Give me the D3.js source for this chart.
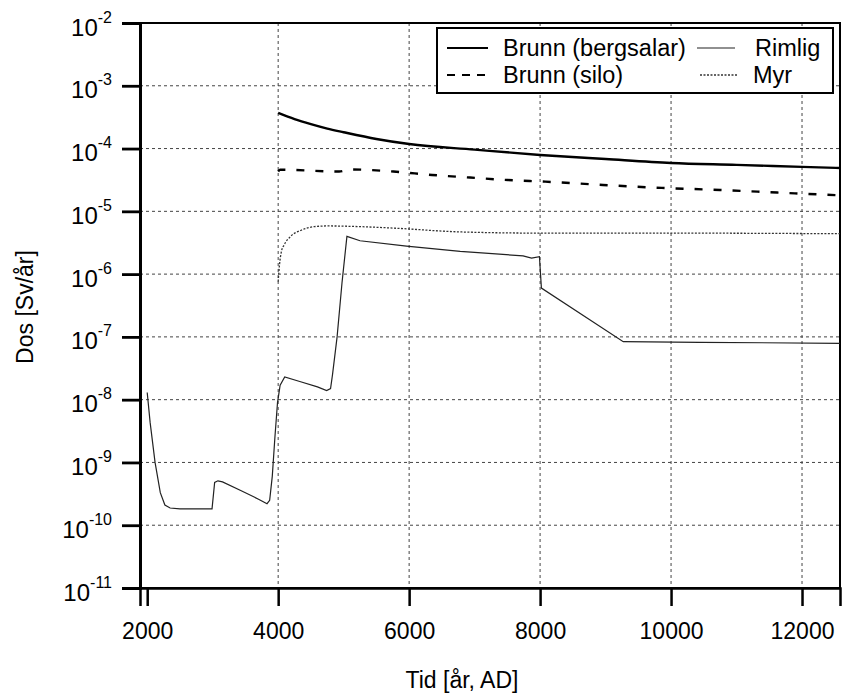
<!DOCTYPE html>
<html>
<head>
<meta charset="utf-8">
<script src="https://cdn.jsdelivr.net/npm/d3@7"></script>
<style>
  body { margin: 0; background: #fff; }
  text { font-family: "Liberation Sans", Arial, sans-serif; fill: #000; }
</style>
</head>
<body>
<svg id="chart" width="846" height="697"></svg>
<script>
// year (AD) -> dose (Sv/år)
const bergsalar = [[4000, 3.7e-4], [4250, 2.95e-4], [4500, 2.45e-4], [4750, 2.08e-4], [5000, 1.82e-4],
  [5500, 1.42e-4], [6000, 1.18e-4], [7000, 9.6e-5], [8000, 7.9e-5], [9000, 6.8e-5],
  [10000, 5.9e-5], [11000, 5.5e-5], [12000, 5.1e-5], [12580, 4.9e-5]]

const silo = [[4000, 4.3e-5], [4030, 4.6e-5], [4930, 4.3e-5], [5100, 4.65e-5], [5760, 4.3e-5],
  [6350, 3.8e-5], [6930, 3.45e-5], [7510, 3.15e-5], [8080, 2.97e-5], [8960, 2.63e-5],
  [9860, 2.36e-5], [10750, 2.19e-5], [11620, 1.99e-5], [12580, 1.8e-5]]

const rimlig = [[2000, 1.3e-8], [2045, 4.3e-9], [2120, 1.0e-9], [2200, 3.3e-10], [2270, 2.1e-10],
  [2350, 1.88e-10], [2500, 1.82e-10], [2990, 1.82e-10], [3030, 4.8e-10], [3080, 5.1e-10],
  [3150, 4.9e-10], [3420, 3.6e-10], [3700, 2.6e-10], [3830, 2.2e-10], [3870, 2.5e-10],
  [3910, 6e-10], [3950, 2.5e-9], [3990, 9e-9], [4030, 1.7e-8], [4100, 2.3e-8], [4330, 1.95e-8],
  [4600, 1.6e-8], [4740, 1.4e-8], [4800, 1.5e-8], [4830, 2.5e-8], [4900, 1.0e-7], [4975, 7.3e-7],
  [5050, 4.0e-6], [5250, 3.4e-6], [5960, 2.8e-6], [6780, 2.3e-6], [7740, 1.95e-6], [7870, 1.8e-6],
  [7990, 1.9e-6], [8020, 6e-7], [9270, 8.4e-8], [10440, 8.2e-8], [12580, 7.9e-8]]

const myr = [[4000, 7.6e-7], [4020, 1.4e-6], [4050, 2.3e-6], [4090, 2.9e-6], [4190, 4.0e-6],
  [4350, 5.0e-6], [4550, 5.7e-6], [4750, 5.85e-6], [5260, 5.7e-6], [5770, 5.4e-6],
  [6780, 4.7e-6], [8000, 4.5e-6], [9840, 4.5e-6], [12580, 4.4e-6]]

const xTicks = [2000, 4000, 6000, 8000, 10000, 12000]
const yExponents = [-2, -3, -4, -5, -6, -7, -8, -9, -10, -11]

const margins = {left: 140, right: 6, top: 23, bottom: 109}
const width = 846, height = 697
const innerW = width - margins.left - margins.right
const innerH = height - margins.top - margins.bottom

const svg = d3.select("#chart")
const g = svg.append("g").attr("transform", `translate(${margins.left},${margins.top})`)

const x = d3.scaleLinear().domain([1890, 12580]).range([0, innerW])
const y = d3.scaleLog().domain([1e-11, 1e-2]).range([innerH, 0])

// grid
g.append("g").selectAll("line")
  .data(xTicks.filter(d => d > 2000))
  .join("line")
  .attr("x1", d => x(d)).attr("x2", d => x(d))
  .attr("y1", 0).attr("y2", innerH)
  .attr("stroke", "#444").attr("stroke-width", 1).attr("stroke-dasharray", "3,3")

g.append("g").selectAll("line")
  .data(yExponents.slice(1, -1))
  .join("line")
  .attr("x1", 0).attr("x2", innerW)
  .attr("y1", d => y(Math.pow(10, d))).attr("y2", d => y(Math.pow(10, d)))
  .attr("stroke", "#444").attr("stroke-width", 1).attr("stroke-dasharray", "3,3")

// frame
g.append("rect")
  .attr("width", innerW).attr("height", innerH)
  .attr("fill", "none").attr("stroke", "#000").attr("stroke-width", 2)

// axes
const xAxis = g.append("g")
  .attr("transform", `translate(0,${innerH})`)
  .call(d3.axisBottom(x).tickValues(xTicks).tickSize(18).tickPadding(17).tickFormat(d3.format("d")))
xAxis.select(".domain").attr("stroke-width", 2.5)
xAxis.selectAll(".tick line").attr("stroke-width", 2.5)
xAxis.selectAll("text").attr("font-size", 23).attr("font-family", null)

const yAxis = g.append("g")
  .call(d3.axisLeft(y).tickValues(yExponents.map(e => Math.pow(10, e))).tickSize(18).tickPadding(10))
yAxis.select(".domain").attr("stroke-width", 3)
yAxis.selectAll(".tick line").attr("stroke-width", 2.8)
yAxis.selectAll(".tick text")
  .attr("font-family", null)
  .attr("dy", null)
  .attr("y", 12)
  .each(function(d) {
    const t = d3.select(this).text("")
    t.append("tspan").attr("font-size", 24).text("10")
    t.append("tspan").attr("font-size", 16).attr("dy", -13).text(Math.round(Math.log10(d)))
  })

// series
const line = d3.line().x(d => x(d[0])).y(d => y(d[1]))
const smooth = d3.line().x(d => x(d[0])).y(d => y(d[1])).curve(d3.curveMonotoneX)

const series = [
  {data: bergsalar, gen: smooth, width: 2.4, dash: null, color: "#000"},
  {data: silo, gen: smooth, width: 2.4, dash: "8,11", color: "#000"},
  {data: rimlig, gen: line, width: 1.2, dash: null, color: "#222"},
  {data: myr, gen: smooth, width: 1.3, dash: "2,1.5", color: "#333"}
]

g.append("g").selectAll("path")
  .data(series)
  .join("path")
  .attr("d", d => d.gen(d.data))
  .attr("fill", "none")
  .attr("stroke", d => d.color)
  .attr("stroke-width", d => d.width)
  .attr("stroke-dasharray", d => d.dash)

// legend
const legend = svg.append("g").attr("transform", "translate(437,28)")
legend.append("rect")
  .attr("width", 396).attr("height", 65)
  .attr("fill", "#fff").attr("stroke", "#000").attr("stroke-width", 2)

const legendItems = [
  {label: "Brunn (bergsalar)", s: series[0], lx: 10, ly: 20, len: 41, tx: 66},
  {label: "Brunn (silo)", s: series[1], lx: 10, ly: 47, len: 41, tx: 66},
  {label: "Rimlig", s: series[2], lx: 260, ly: 20, len: 38, tx: 318},
  {label: "Myr", s: series[3], lx: 263, ly: 47, len: 37, tx: 316}
]

const items = legend.selectAll("g.item").data(legendItems).join("g").attr("class", "item")
items.append("line")
  .attr("x1", d => d.lx).attr("x2", d => d.lx + d.len)
  .attr("y1", d => d.ly).attr("y2", d => d.ly)
  .attr("stroke", d => d.s.color)
  .attr("stroke-width", d => Math.min(d.s.width, 1.8))
  .attr("stroke-dasharray", d => d.s.dash ? (d.s.width > 2 ? "8,7" : d.s.dash) : null)
items.append("text")
  .attr("x", d => d.tx).attr("y", d => d.ly + 8)
  .attr("font-size", 23.5)
  .text(d => d.label)

// axis titles
svg.append("text")
  .attr("transform", "translate(33,307) rotate(-90)")
  .attr("text-anchor", "middle")
  .attr("font-size", 23)
  .text("Dos [Sv/år]")

svg.append("text")
  .attr("x", 462).attr("y", 688)
  .attr("text-anchor", "middle")
  .attr("font-size", 23)
  .text("Tid [år, AD]")
</script>
</body>
</html>
